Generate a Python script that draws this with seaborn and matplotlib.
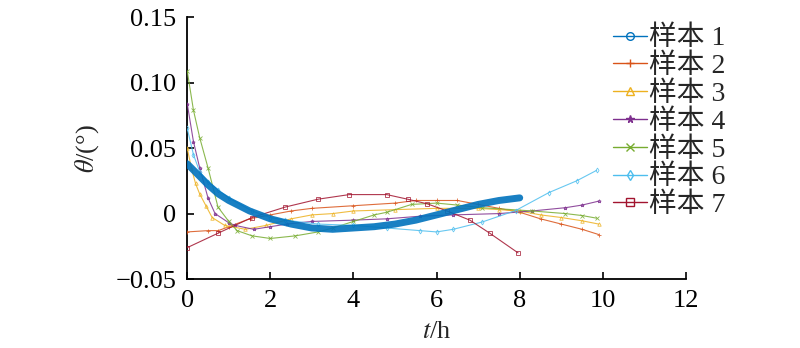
import matplotlib
matplotlib.use("Agg")
import matplotlib.pyplot as plt
import seaborn as sns
import pandas as pd
from matplotlib.lines import Line2D

# ---- data ----
labels = ["样本 1", "样本 2", "样本 3", "样本 4", "样本 5", "样本 6", "样本 7"]

t1 = [0, 0.25, 0.5, 0.75, 1, 1.5, 2, 2.5, 3, 3.5, 4, 4.5, 5, 5.5, 6, 6.5, 7, 7.5, 8]
y1 = [0.038, 0.030, 0.022, 0.015, 0.010, 0.002, -0.004, -0.008, -0.011, -0.012, -0.011,
      -0.010, -0.008, -0.005, -0.001, 0.003, 0.007, 0.010, 0.012]

t2 = [0, 0.5, 0.75, 1, 1.5, 2, 2.5, 3, 4, 5, 5.5, 6, 6.5, 7, 7.5, 8, 8.5, 9, 9.5, 9.9]
y2 = [-0.014, -0.013, -0.013, -0.010, -0.004, -0.001, 0.002, 0.004, 0.006, 0.008, 0.010,
      0.010, 0.010, 0.007, 0.004, 0.001, -0.004, -0.008, -0.012, -0.016]

t3 = [0, 0.1, 0.2, 0.3, 0.45, 0.6, 0.9, 1.4, 1.9, 2.5, 3, 3.5, 4, 5, 6, 7, 7.5, 8, 8.5,
      9, 9.5, 9.9]
y3 = [0.050, 0.035, 0.023, 0.015, 0.006, -0.003, -0.009, -0.012, -0.009, -0.004, -0.001,
      0.000, 0.002, 0.003, 0.004, 0.004, 0.003, 0.002, -0.001, -0.003, -0.0055, -0.008]

t4 = [0, 0.15, 0.3, 0.5, 0.67, 1, 1.15, 1.6, 2, 2.4, 3, 4, 4.8, 5.6, 6.4, 7.5, 8.3, 9.1,
      9.5, 9.9]
y4 = [0.084, 0.055, 0.035, 0.012, 0.000, -0.007, -0.009, -0.012, -0.010, -0.008, -0.006,
      -0.005, -0.004, -0.002, -0.001, 0.000, 0.002, 0.0045, 0.0065, 0.0095]

t5 = [0, 0.15, 0.3, 0.5, 0.74, 1, 1.2, 1.56, 2, 2.6, 3.15, 3.5, 4, 4.5, 4.8, 5.4, 6, 6.5,
      7.1, 8.3, 9.1, 9.5, 9.85]
y5 = [0.109, 0.079, 0.058, 0.035, 0.005, -0.006, -0.013, -0.017, -0.019, -0.017, -0.014,
      -0.011, -0.006, -0.001, 0.001, 0.007, 0.008, 0.0065, 0.0045, 0.002, 0.000, -0.0015,
      -0.0035]

t6 = [0, 0.15, 0.3, 0.5, 0.75, 1, 1.56, 2, 2.36, 3.15, 4, 4.8, 5.6, 6, 6.4, 7.1, 7.9, 8.7,
      9.37, 9.85]
y6 = [0.065, 0.045, 0.032, 0.024, 0.018, 0.012, 0.002, -0.003, -0.005, -0.008, -0.009,
      -0.011, -0.013, -0.014, -0.012, -0.0064, 0.0023, 0.016, 0.025, 0.033]

t7 = [0, 0.74, 1.56, 2.36, 3.15, 3.9, 4.8, 5.3, 5.77, 6.25, 6.8, 7.28, 7.96]
y7 = [-0.026, -0.015, -0.003, 0.005, 0.011, 0.0145, 0.0145, 0.011, 0.0075, 0.002, -0.005,
      -0.015, -0.030]

series = [(t1, y1), (t2, y2), (t3, y3), (t4, y4), (t5, y5), (t6, y6), (t7, y7)]
colors = ["#0072BD", "#D95319", "#EDB120", "#7E2F8E", "#77AC30", "#4DBEEE", "#A2142F"]
markers = ["o", "+", "^", "*", "x", "d", "s"]

rows = []
for lab, (ts, ys) in zip(labels, series):
    for t, y in zip(ts, ys):
        rows.append({"t": t, "theta": y, "sample": lab})
df = pd.DataFrame(rows)

sns.set_style("ticks")
plt.rcParams["font.family"] = ["Liberation Serif", "Noto Sans CJK SC"]
plt.rcParams["mathtext.fontset"] = "stix"

fig = plt.figure(figsize=(8, 3.48), dpi=100)
ax = fig.add_axes([0.234, 0.198, 0.6235, 0.753])

for i, lab in enumerate(labels):
    sub = df[df["sample"] == lab]
    if i == 0:
        sns.lineplot(data=sub, x="t", y="theta", ax=ax, color=colors[i], linewidth=5,
                     alpha=0.9, zorder=5)
    else:
        sns.lineplot(data=sub, x="t", y="theta", ax=ax, color=colors[i], linewidth=0.8,
                     marker=markers[i], markersize=2.5, markerfacecolor="none",
                     markeredgecolor=colors[i], markeredgewidth=0.6, alpha=0.85, zorder=3)

ax.set_xlim(0, 12)
ax.set_ylim(-0.05, 0.15)
ax.set_xticks([0, 2, 4, 6, 8, 10, 12])
ax.set_xticklabels(["0", "2", "4", "6", "8", "10", "12"])
ax.set_yticks([-0.05, 0, 0.05, 0.10, 0.15])
ax.set_yticklabels(["\u22120.05", "0", "0.05", "0.10", "0.15"])
ax.tick_params(direction="in", length=5, width=1.2, labelsize=19, colors="black")
ax.tick_params(axis="x", pad=8)
ax.tick_params(axis="y", pad=8)
for s in ["top", "right"]:
    ax.spines[s].set_visible(False)
for s in ["left", "bottom"]:
    ax.spines[s].set_linewidth(1.3)
    ax.spines[s].set_color("black")

ax.set_xlabel("$t$/h", fontsize=19, labelpad=6)
ax.set_ylabel("$\\theta$/(°)", fontsize=19, labelpad=10)

handles = [Line2D([], [], color=colors[i], linewidth=1.0, marker=markers[i], markersize=5.5,
                  markerfacecolor=colors[i] if markers[i] == "*" else "none",
                  markeredgecolor=colors[i]) for i in range(7)]
leg = fig.legend(handles, labels, loc="upper left", bbox_to_anchor=(0.752, 0.958),
                 frameon=False, fontsize=20, handlelength=1.25, handletextpad=0.05,
                 labelspacing=0.08, borderaxespad=0)

fig.savefig("out.png", dpi=100)
